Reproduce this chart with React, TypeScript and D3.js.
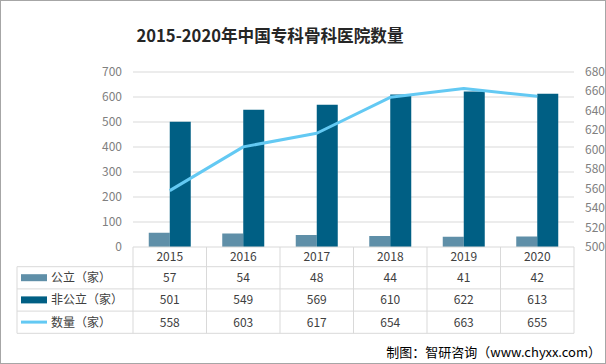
import React from 'react';
import * as d3 from 'd3';

const years = ['2015', '2016', '2017', '2018', '2019', '2020'];
const publicVals = [57, 54, 48, 44, 41, 42];
const nonPublicVals = [501, 549, 569, 610, 622, 613];
const totalVals = [558, 603, 617, 654, 663, 655];
const seriesNames = ['公立（家）', '非公立（家）', '数量（家）'];
const leftTicks = [0, 100, 200, 300, 400, 500, 600, 700];
const rightTicks = [500, 520, 540, 560, 580, 600, 620, 640, 660, 680];

const W = 606;
const H = 364;
const left = 133;
const right = 574;
const top = 72;
const bottom = 247;
const rowH = 22.2;
const tableLeft = 17;

const colors = { pub: '#5f8fa8', non: '#005f84', line: '#63c9f3' };
const grid = '#d9d9d9';
const font = '"Noto Sans CJK SC", "Noto Sans", sans-serif';

const App = () => {
  const x = d3.scaleBand().domain(years).range([left, right]).padding(0);
  const inner = d3.scaleBand().domain(['pub', 'non']).range([-21, 21]);
  const yL = d3.scaleLinear().domain([0, 700]).range([bottom, top]);
  const yR = d3.scaleLinear().domain([500, 680]).range([bottom, top]);
  const cx = (d: string) => (x(d) as number) + x.bandwidth() / 2;

  const line = d3.line<number>()
    .x((_, i) => cx(years[i]))
    .y(d => yR(d));

  const headerTop = bottom;
  const headerBottom = bottom + 19.7;
  const rows = [publicVals, nonPublicVals, totalVals];

  return (
    <svg width={W} height={H} style={{ position: 'absolute', left: 0, top: 0, background: '#fff' }} fontFamily={font}>
      <rect x={0.5} y={0.5} width={W - 1} height={H - 1} fill="#fff" stroke="#a6a6a6" />
      <text x={270} y={42} textAnchor="middle" fontSize={17} fontWeight="bold" fill="#262626"
        textLength={267} lengthAdjust="spacingAndGlyphs">
        2015-2020年中国专科骨科医院数量
      </text>

      {leftTicks.map(t => (
        <g key={'l' + t}>
          {t > 0 && <line x1={left} x2={right} y1={yL(t)} y2={yL(t)} stroke={grid} />}
          <text x={122} y={yL(t) + 4} textAnchor="end" fontSize={12} fill="#808080">{t}</text>
        </g>
      ))}
      {rightTicks.map(t => (
        <text key={'r' + t} x={585} y={yR(t) + 4} fontSize={12} fill="#808080">{t}</text>
      ))}

      {years.map((yr, i) => (
        <g key={yr}>
          <rect x={cx(yr) + (inner('pub') as number)} y={yL(publicVals[i])} width={inner.bandwidth()}
            height={bottom - yL(publicVals[i])} fill={colors.pub} />
          <rect x={cx(yr) + (inner('non') as number)} y={yL(nonPublicVals[i])} width={inner.bandwidth()}
            height={bottom - yL(nonPublicVals[i])} fill={colors.non} />
        </g>
      ))}
      <path d={line(totalVals) || ''} fill="none" stroke={colors.line} strokeWidth={3} strokeLinejoin="round" />

      {/* data table */}
      <g stroke={grid} strokeWidth={1}>
        <line x1={left} x2={right} y1={headerTop} y2={headerTop} />
        {[0, 1, 2, 3].map(r => (
          <line key={'h' + r} x1={tableLeft} x2={right} y1={headerBottom + r * rowH} y2={headerBottom + r * rowH} />
        ))}
        <line x1={tableLeft} x2={tableLeft} y1={headerBottom} y2={headerBottom + 3 * rowH} />
        {years.map(yr => (
          <line key={'v' + yr} x1={x(yr)} x2={x(yr)} y1={headerTop} y2={headerBottom + 3 * rowH} />
        ))}
        <line x1={right} x2={right} y1={headerTop} y2={headerBottom + 3 * rowH} />
      </g>
      {years.map(yr => (
        <text key={'t' + yr} x={cx(yr)} y={headerBottom - 5.5} textAnchor="middle" fontSize={12} fill="#404040">{yr}</text>
      ))}
      {rows.map((vals, r) => (
        <g key={'row' + r}>
          {r < 2
            ? <rect x={21} y={headerBottom + r * rowH + 7.5} width={26} height={7} fill={r === 0 ? colors.pub : colors.non} />
            : <line x1={21} x2={47} y1={headerBottom + r * rowH + 11} y2={headerBottom + r * rowH + 11} stroke={colors.line} strokeWidth={3} />}
          <text x={51} y={headerBottom + r * rowH + 15.5} fontSize={12} fill="#404040">{seriesNames[r]}</text>
          {vals.map((v, i) => (
            <text key={i} x={cx(years[i])} y={headerBottom + r * rowH + 15.5} textAnchor="middle" fontSize={12} fill="#404040">{v}</text>
          ))}
        </g>
      ))}

      <text x={601} y={357} textAnchor="end" fontSize={13} fill="#000">制图：智研咨询（www.chyxx.com）</text>
    </svg>
  );
};

export default App;
